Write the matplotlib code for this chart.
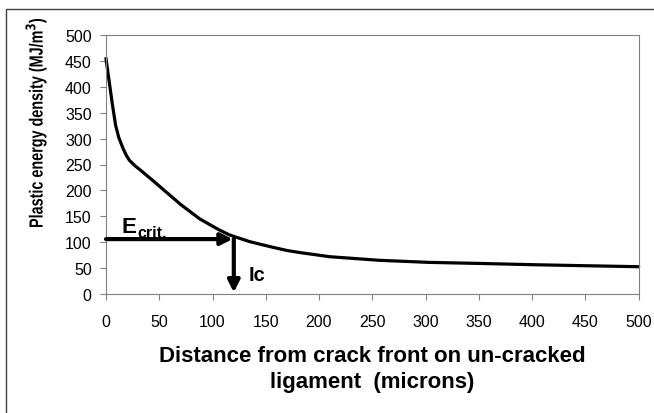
import matplotlib.pyplot as plt
from matplotlib.patches import Rectangle, PathPatch
from matplotlib.textpath import TextPath
from matplotlib.font_manager import FontProperties
from matplotlib.transforms import Affine2D

# data
distance = [0, 3, 6, 9, 12, 16, 19, 22, 27, 33, 44, 57, 70, 88, 100, 107, 116, 135, 157,
            170, 182, 210, 257, 304, 351, 400, 450, 500]
energy = [454, 410, 366, 326, 302, 281, 268, 258, 248, 238, 219, 196, 173, 145, 131, 123,
          114, 101, 90, 84, 80, 72, 65, 61, 59, 56.6, 54.6, 52.7]
e_crit = 106
ic = 120
x_ticks = list(range(0, 501, 50))
y_ticks = list(range(0, 501, 50))

plt.rcParams['font.family'] = ['Liberation Sans', 'DejaVu Sans']

fig = plt.figure(figsize=(6.54, 4.14), dpi=100)
ax = fig.add_axes([106 / 654, 1 - 295 / 414, (638.5 - 106) / 654, (295 - 36) / 414])

# outer chart frame
fig.patches.append(Rectangle((6 / 654, -0.01), 1.0, 1 - 10 / 414 + 0.01,
                             transform=fig.transFigure, fill=False,
                             edgecolor='#404040', linewidth=1.0))

ax.plot(distance, energy, color='black', linewidth=2.3, clip_on=False,
        solid_joinstyle='round')

arrow = dict(arrowstyle='-|>,head_length=0.7,head_width=0.35', color='black',
             linewidth=3.0, shrinkA=0, shrinkB=0)
ax.annotate('', xy=(ic - 1, e_crit), xytext=(0, e_crit), arrowprops=arrow,
            annotation_clip=False)
ax.annotate('', xy=(ic, 3), xytext=(ic, e_crit), arrowprops=arrow,
            annotation_clip=False)

ax.text(15, 119, 'E', fontsize=16, fontweight='bold', ha='left', va='baseline')
ax.text(29.5, 111, 'crit.', fontsize=11.5, fontweight='bold', ha='left', va='baseline')
ax.text(134, 37.5, 'Ic', fontsize=14.5, fontweight='bold', ha='left', va='center')

ax.set_xlim(0, 500)
ax.set_ylim(0, 500)
ax.set_xticks(x_ticks)
ax.set_yticks(y_ticks)
ax.tick_params(direction='out', length=4.3, width=0.8, color='#808080',
               labelsize=11.5)
ax.tick_params(axis='x', pad=10)
ax.tick_params(axis='y', pad=6)
for s in ax.spines.values():
    s.set_color('#808080')
    s.set_linewidth(0.8)

fig.text(372 / 654, 1 - 356 / 414, 'Distance from crack front on un-cracked',
         fontsize=16, fontweight='bold', ha='center', va='center')
fig.text(372 / 654, 1 - 383 / 414, 'ligament  (microns)',
         fontsize=16, fontweight='bold', ha='center', va='center')

# y label: condensed bold text, drawn as a path in pixel coordinates
ylab = TextPath((0, 0), r'Plastic energy density (MJ/m$^\mathbf{3}$)', size=19,
                prop=FontProperties(family='Liberation Sans', weight='bold'))
ext = ylab.get_extents()
k = 208 / ext.width
cap_mid = (ext.y0 + ext.y1) / 2
tr = (Affine2D().translate(-(ext.x0 + ext.x1) / 2, -cap_mid).scale(k, 1.0)
      .rotate_deg(90).translate(36, 414 - 124))
fig.patches.append(PathPatch(ylab, transform=tr, facecolor='black',
                             edgecolor='none'))

fig.savefig('out.png', dpi=100)
